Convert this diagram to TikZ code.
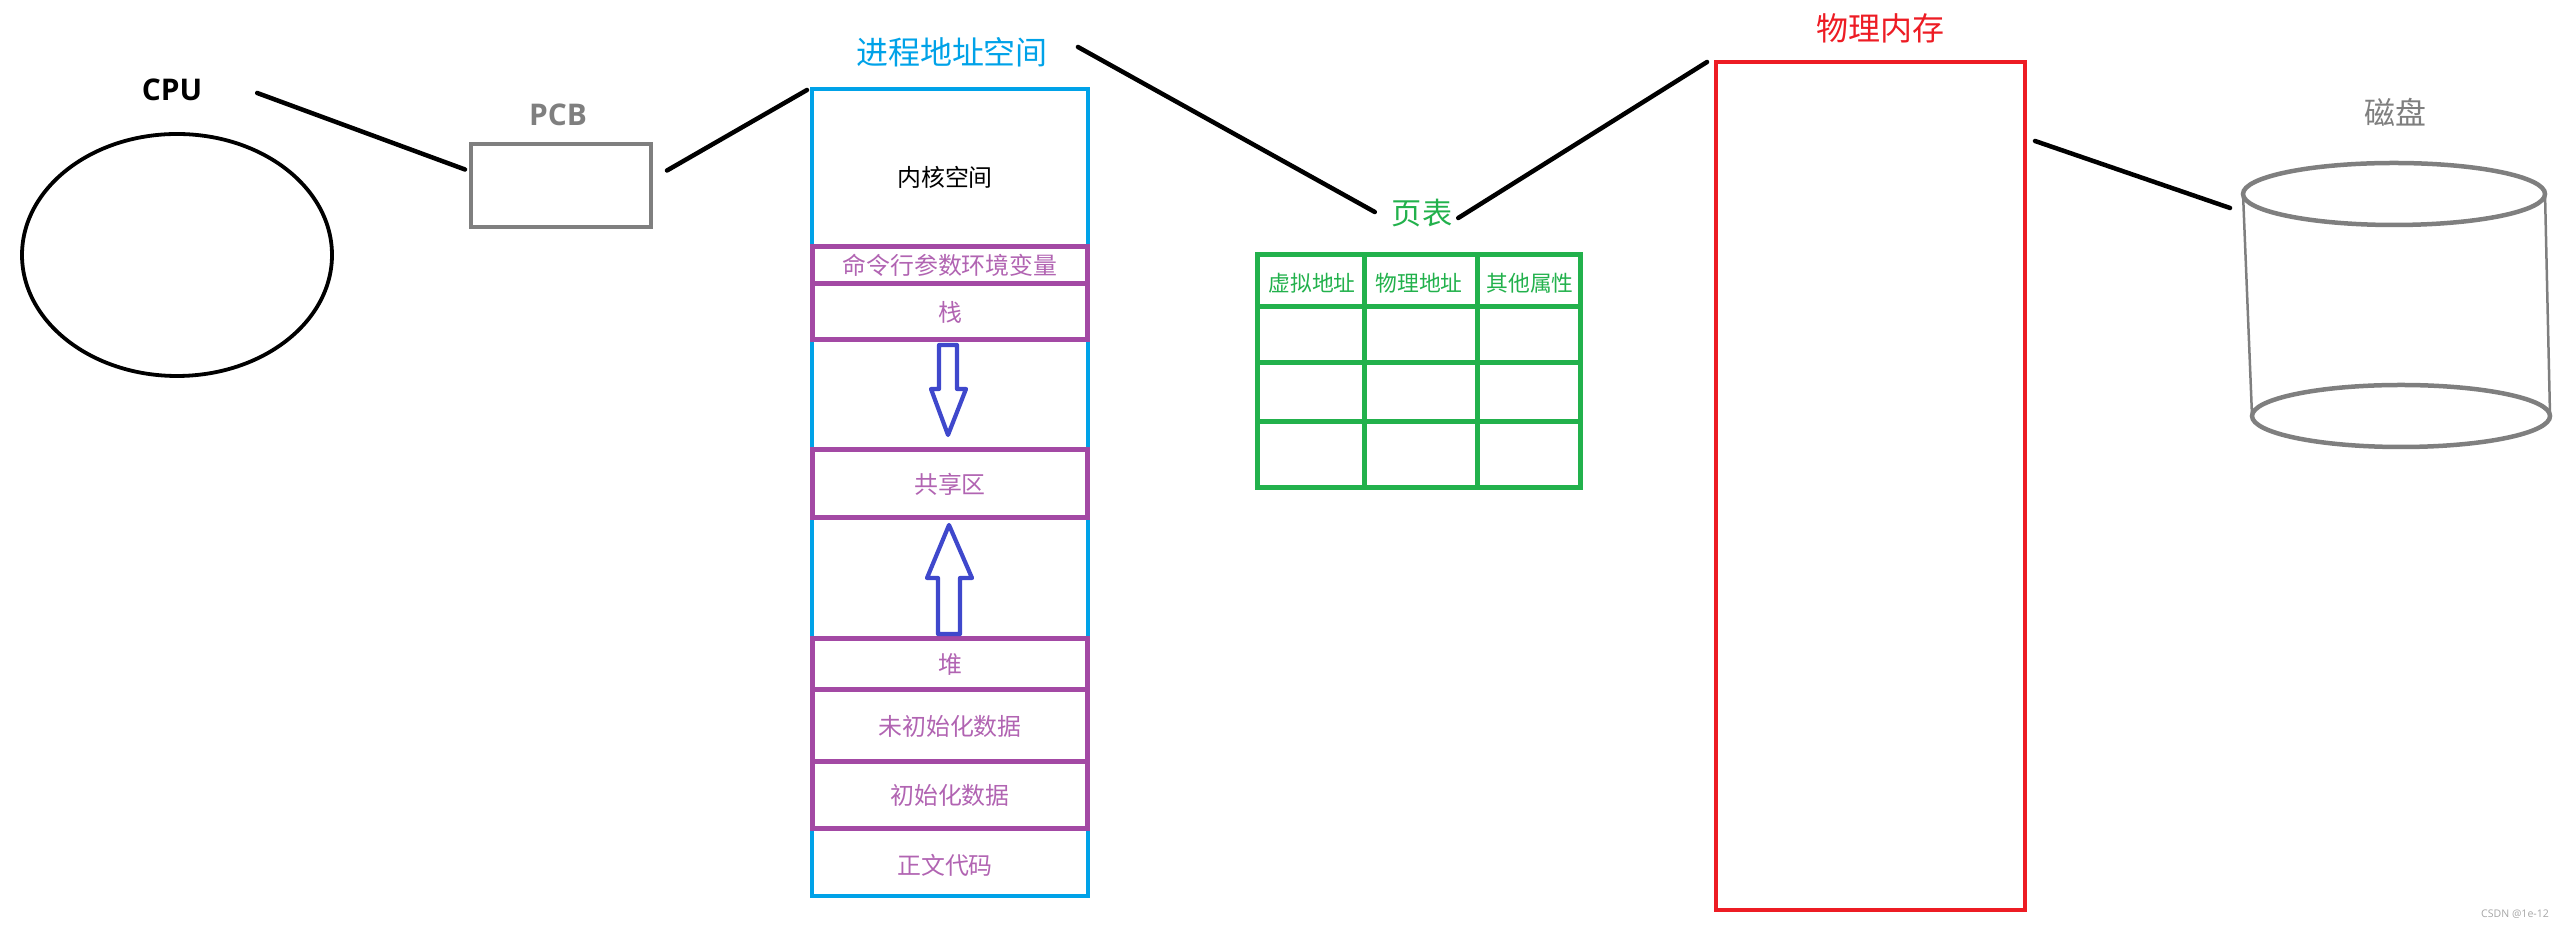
\documentclass[tikz,border=0pt]{standalone}
\usepackage{fontspec}
\setmainfont{Noto Sans CJK SC}
\newfontfamily\osans{Open Sans}
\usetikzlibrary{positioning,shapes.geometric}
\definecolor{vblue}{HTML}{00A2E8}
\definecolor{segpurple}{HTML}{A349A4}
\definecolor{growblue}{HTML}{3F48CC}
\definecolor{ptgreen}{HTML}{22B14C}
\definecolor{memred}{HTML}{ED1C24}
\definecolor{hwgray}{HTML}{7F7F7F}
\begin{document}
\begin{tikzpicture}[x=0.1mm,y=-0.1mm,outer sep=0pt,inner sep=0pt,
link/.style ={line width=0.45mm,line cap=round},
lbl/.style ={font=\fontsize{9.1}{11}\selectfont},
hwlbl/.style ={text=hwgray,font=\osans\bfseries\fontsize{8.5}{10}\selectfont},
segbox/.style ={draw=segpurple,line width=0.5mm,minimum width=27.5mm,
 text=segpurple!85,font=\fontsize{6.8}{8}\selectfont},
hdr/.style ={text=ptgreen,font=\fontsize{6.2}{7}\selectfont},
growarrow/.style ={draw=growblue,line width=0.42mm,line join=round},
hw/.style ={draw=hwgray,line width=0.45mm}]
\useasboundingbox (0,0) rectangle (2565,930);
% cpu and pcb
\node[hwlbl,text=black] (cpu) at (172,90) {CPU};
\node[draw,ellipse,line width=0.38mm,minimum width=31mm,minimum height=24.2mm] (core) at (177,255) {};
\node[hwlbl] (pcbl) at (558,115) {PCB};
\node[hw,minimum width=18mm,minimum height=8.3mm] (pcb) at (561,185.5) {};
% process address space
\node[lbl,text=vblue] (vtitle) at (952,52) {进程地址空间};
\node[draw=vblue,line width=0.45mm,minimum width=27.6mm,minimum height=80.7mm] (space) at (950,492.5) {};
\node[font=\fontsize{6.8}{8}\selectfont] (kernel) at (945,177) {内核空间};
\node[segbox,minimum height=3.7mm] (argv) at (950,265.5) {命令行参数环境变量};
\node[segbox,minimum height=5.6mm] (stack) [below=0pt of argv] {栈};
\node[segbox,minimum height=6.8mm] (shared) at (950,484) {共享区};
\node[segbox,minimum height=5.1mm] (heap) at (950,664.5) {堆};
\node[segbox,minimum height=7.2mm] (bss) [below=0pt of heap] {未初始化数据};
\node[segbox,minimum height=6.7mm] (data) [below=0pt of bss] {初始化数据};
\node[text=segpurple!85,font=\fontsize{6.8}{8}\selectfont] (text) at (945,865) {正文代码};
\draw[growarrow] (939,345) -- (957,345) -- (957,389) -- (966,389) -- (948,435)
 -- (931,389) -- (939,389) -- cycle;
\draw[growarrow] (938,634) -- (960,634) -- (960,578) -- (972,578) -- (949,525)
 -- (927,578) -- (938,578) -- cycle;
% page table
\node[lbl,text=ptgreen,font=\fontsize{8.6}{10}\selectfont] (ptl) at (1422,213) {页表};
\draw[ptgreen,line width=0.5mm] (1257,255) rectangle (1580,488);
\foreach \y in {307,363,422}
 \draw[ptgreen,line width=0.5mm] (1257,\y) -- (1580,\y);
\foreach \x in {1364,1477}
 \draw[ptgreen,line width=0.5mm] (\x,255) -- (\x,488);
\node[hdr] (va) at (1312,283) {虚拟地址};
\node[hdr] (pa) at (1419,283) {物理地址};
\node[hdr] (attr) at (1530,283) {其他属性};
% physical memory and disk
\node[lbl,text=memred] (meml) at (1880,28) {物理内存};
\node[draw=memred,line width=0.42mm,minimum width=30.9mm,minimum height=84.8mm] (mem) at (1870.5,486) {};
\node[lbl,text=hwgray,font=\fontsize{8.8}{10}\selectfont] (diskl) at (2395,112) {磁盘};
\node[hw,ellipse,minimum width=30.2mm,minimum height=6.2mm] (disk) at (2394,194) {};
\node[hw,ellipse,minimum width=29.8mm,minimum height=6.2mm] (diskbot) at (2401,416) {};
\draw[hwgray,line width=0.25mm] (disk.west) -- (diskbot.west);
\draw[hwgray,line width=0.25mm] (disk.east) -- (diskbot.east);
% links
\draw[link] ([shift={(55,3)}]cpu.east) -- ([shift={(-6,-16)}]pcb.west);
\draw[link] ([shift={(16,-15)}]pcb.east) -- ([shift={(-5,1)}]space.north west);
\draw[link] ([shift={(30,-5)}]vtitle.east) -- ([shift={(-17,-1)}]ptl.west);
\draw[link] ([shift={(6,5)}]ptl.east) -- ([shift={(-9,0)}]mem.north west);
\draw[link] ([shift={(10,79)}]mem.north east) -- ([shift={(-13,14)}]disk.west);
\node[text=gray!70,font=\osans\fontsize{3}{4}\selectfont] (wm) at (2515,914) {CSDN @1e-12};
\end{tikzpicture}
\end{document}
